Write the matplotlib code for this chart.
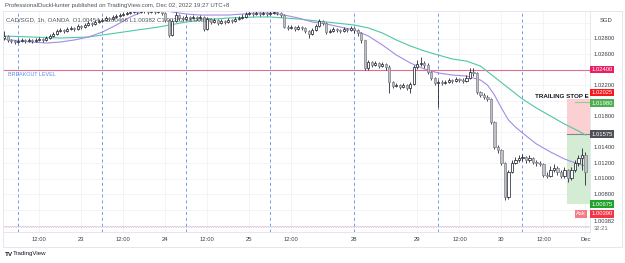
import matplotlib
matplotlib.use('Agg')
import matplotlib.pyplot as plt
import matplotlib.transforms as mtransforms
from matplotlib.patches import Rectangle
import numpy as np

# ---------------- data (CAD/SGD, 1h, OANDA) ----------------
open0 = 1.02806
close = [1.02832, 1.02781, 1.02768, 1.02755, 1.02768, 1.02781, 1.02768, 1.02781, 1.02768, 1.02781,
         1.02794, 1.02781, 1.02806, 1.02832, 1.02858, 1.02896, 1.02909, 1.02896, 1.02922, 1.02935,
         1.02922, 1.02960, 1.02947, 1.02973, 1.02999, 1.02986, 1.03012, 1.03024, 1.03037, 1.03063,
         1.03050, 1.03076, 1.03088, 1.03101, 1.03114, 1.03127, 1.03140, 1.03153, 1.03140, 1.03165,
         1.03153, 1.03140, 1.03165, 1.03140, 1.03153, 1.03127, 1.03037, 1.02845, 1.03024, 1.03101,
         1.03063, 1.03050, 1.03076, 1.03063, 1.03076, 1.03063, 1.03076, 1.02922, 1.03050, 1.03012,
         1.03037, 1.02999, 1.03024, 1.03012, 1.03037, 1.03024, 1.03050, 1.03063, 1.03076, 1.03114,
         1.03127, 1.03114, 1.03127, 1.03114, 1.03127, 1.03114, 1.03127, 1.03140, 1.03127, 1.03101,
         1.02947, 1.02935, 1.02947, 1.02922, 1.02947, 1.02935, 1.02896, 1.02858, 1.02909, 1.02960,
         1.03024, 1.02999, 1.02883, 1.02896, 1.02922, 1.02909, 1.02896, 1.02922, 1.02909, 1.02935,
         1.02909, 1.02871, 1.02781, 1.02422, 1.02499, 1.02460, 1.02486, 1.02447, 1.02473, 1.02435,
         1.02242, 1.02191, 1.02204, 1.02178, 1.02204, 1.02165, 1.02217, 1.02435, 1.02473, 1.02486,
         1.02460, 1.02370, 1.02294, 1.02229, 1.02242, 1.02229, 1.02242, 1.02268, 1.02255, 1.02281,
         1.02268, 1.02255, 1.02294, 1.02370, 1.02358, 1.02114, 1.02076, 1.02050, 1.02024, 1.01730,
         1.01410, 1.01371, 1.01204, 1.00768, 1.01088, 1.01204, 1.01242, 1.01268, 1.01281, 1.01242,
         1.01268, 1.01217, 1.01204, 1.01191, 1.01050, 1.01037, 1.01114, 1.01140, 1.01088, 1.01037,
         1.01114, 1.01011, 1.01114, 1.01204, 1.01268, 1.01306, 1.01088]
high = [1.02896, 1.02845, 1.02794, 1.02781, 1.02794, 1.02806, 1.02794, 1.02806, 1.02794, 1.02806,
        1.02819, 1.02806, 1.02832, 1.02858, 1.02883, 1.02922, 1.02935, 1.02922, 1.02947, 1.02960,
        1.02947, 1.02986, 1.02973, 1.02999, 1.03024, 1.03012, 1.03037, 1.03050, 1.03063, 1.03088,
        1.03076, 1.03101, 1.03114, 1.03127, 1.03140, 1.03153, 1.03165, 1.03178, 1.03165, 1.03191,
        1.03178, 1.03165, 1.03191, 1.03178, 1.03178, 1.03165, 1.03140, 1.03050, 1.03050, 1.03140,
        1.03114, 1.03088, 1.03101, 1.03088, 1.03101, 1.03088, 1.03101, 1.03088, 1.03076, 1.03063,
        1.03063, 1.03050, 1.03050, 1.03037, 1.03063, 1.03050, 1.03076, 1.03088, 1.03114, 1.03140,
        1.03153, 1.03140, 1.03153, 1.03140, 1.03153, 1.03140, 1.03153, 1.03165, 1.03153, 1.03140,
        1.03114, 1.02973, 1.02973, 1.02960, 1.02973, 1.02960, 1.02947, 1.02909, 1.02935, 1.02986,
        1.03050, 1.03037, 1.03012, 1.02922, 1.02947, 1.02935, 1.02922, 1.02947, 1.02935, 1.02960,
        1.02947, 1.02922, 1.02883, 1.02781, 1.02524, 1.02511, 1.02511, 1.02499, 1.02499, 1.02486,
        1.02460, 1.02255, 1.02229, 1.02217, 1.02229, 1.02217, 1.02242, 1.02460, 1.02524, 1.02563,
        1.02511, 1.02486, 1.02383, 1.02306, 1.02268, 1.02268, 1.02268, 1.02294, 1.02281, 1.02306,
        1.02294, 1.02294, 1.02332, 1.02422, 1.02422, 1.02370, 1.02127, 1.02101, 1.02076, 1.02037,
        1.01743, 1.01435, 1.01384, 1.01217, 1.01114, 1.01242, 1.01281, 1.01306, 1.01319, 1.01294,
        1.01306, 1.01281, 1.01242, 1.01230, 1.01204, 1.01088, 1.01165, 1.01191, 1.01165, 1.01114,
        1.01153, 1.01127, 1.01153, 1.01242, 1.01306, 1.01397, 1.01345]
low = [1.02781, 1.02755, 1.02742, 1.02730, 1.02742, 1.02755, 1.02742, 1.02755, 1.02742, 1.02755,
       1.02768, 1.02755, 1.02768, 1.02794, 1.02819, 1.02845, 1.02883, 1.02871, 1.02883, 1.02909,
       1.02896, 1.02909, 1.02922, 1.02935, 1.02960, 1.02960, 1.02973, 1.02999, 1.03012, 1.03024,
       1.03024, 1.03037, 1.03063, 1.03076, 1.03088, 1.03101, 1.03114, 1.03127, 1.03114, 1.03127,
       1.03127, 1.03114, 1.03127, 1.03114, 1.03127, 1.03101, 1.03012, 1.02819, 1.02832, 1.03012,
       1.03037, 1.03024, 1.03037, 1.03037, 1.03050, 1.03037, 1.03050, 1.02896, 1.02909, 1.02986,
       1.02999, 1.02973, 1.02986, 1.02986, 1.02999, 1.02999, 1.03012, 1.03037, 1.03050, 1.03063,
       1.03101, 1.03088, 1.03101, 1.03088, 1.03101, 1.03088, 1.03101, 1.03114, 1.03101, 1.03076,
       1.02935, 1.02909, 1.02922, 1.02896, 1.02909, 1.02909, 1.02871, 1.02806, 1.02845, 1.02896,
       1.02947, 1.02973, 1.02858, 1.02871, 1.02883, 1.02883, 1.02871, 1.02883, 1.02883, 1.02896,
       1.02871, 1.02832, 1.02742, 1.02396, 1.02396, 1.02435, 1.02447, 1.02422, 1.02435, 1.02396,
       1.02101, 1.02165, 1.02178, 1.02153, 1.02165, 1.02140, 1.02101, 1.02204, 1.02409, 1.02447,
       1.02422, 1.02345, 1.02268, 1.02204, 1.01922, 1.02204, 1.02217, 1.02229, 1.02229, 1.02242,
       1.02242, 1.02229, 1.02242, 1.02281, 1.02319, 1.02088, 1.02050, 1.02024, 1.01999, 1.01704,
       1.01384, 1.01332, 1.01178, 1.00730, 1.00743, 1.01075, 1.01191, 1.01217, 1.01230, 1.01204,
       1.01217, 1.01191, 1.01165, 1.01165, 1.01024, 1.01011, 1.01024, 1.01088, 1.01050, 1.01011,
       1.01011, 1.00960, 1.00986, 1.01088, 1.01165, 1.01114, 1.00922]

fast_idx = [0, 4, 8, 12, 16, 20, 24, 28, 32, 36, 40, 44, 48, 52, 56, 60, 64, 68, 72, 76, 80, 84, 88,
            92, 96, 100, 104, 108, 112, 116, 120, 124, 128, 132, 136, 138, 140, 142, 144, 146, 148,
            152, 156, 160, 164, 166]
fast_ma = [1.02794, 1.02768, 1.02755, 1.02742, 1.02755, 1.02781, 1.02819, 1.02883, 1.02973, 1.03076,
           1.03153, 1.03178, 1.03140, 1.03114, 1.03101, 1.03101, 1.03101, 1.03114, 1.03127, 1.03127,
           1.03101, 1.03063, 1.03012, 1.02986, 1.02947, 1.02909, 1.02832, 1.02717, 1.02588, 1.02486,
           1.02409, 1.02358, 1.02332, 1.02319, 1.02268, 1.02204, 1.02076, 1.01909, 1.01755, 1.01665,
           1.01589, 1.01448, 1.01345, 1.01255, 1.01191, 1.01165]
slow_idx = [0, 8, 16, 24, 28, 36, 44, 52, 56, 64, 72, 76, 84, 92, 100, 104, 108, 112, 116, 120, 124,
            128, 132, 136, 140, 144, 148, 152, 156, 160, 164, 166]
slow_ma = [1.02832, 1.02819, 1.02806, 1.02819, 1.02845, 1.02896, 1.02947, 1.03012, 1.03037, 1.03063,
           1.03076, 1.03076, 1.03050, 1.03012, 1.02973, 1.02935, 1.02871, 1.02781, 1.02704, 1.02640,
           1.02588, 1.02537, 1.02511, 1.02447, 1.02306, 1.02165, 1.02024, 1.01909, 1.01806, 1.01704,
           1.01614, 1.01563]

time_tick_idx = [10, 22, 34, 46, 58, 70, 82, 100, 118, 130, 142, 154, 166]
time_tick_lbl = ['12:00', '23', '12:00', '24', '12:00', '25', '12:00', '28', '29', '12:00', '30',
                 '12:00', 'Dec']
session_idx = [4, 28, 52, 76, 100, 124, 148]
grid_prices = [1.030, 1.028, 1.026, 1.024, 1.022, 1.020, 1.018, 1.016, 1.014, 1.012, 1.010, 1.008,
               1.006, 1.004]
shown_prices = [1.028, 1.026, 1.022, 1.018, 1.014, 1.012, 1.010, 1.008]
breakout_level = 1.024
stop_level = 1.02025
trail_level = 1.01980
entry_level = 1.01575
target_level = 1.00675
ask_price = 1.00390
last_price = 1.00382

# ---------------- figure ----------------
W, H = 625, 263
fig = plt.figure(figsize=(W / 100, H / 100), dpi=100)
fig.patch.set_facecolor('white')
FONT = ['Liberation Sans', 'DejaVu Sans']
plt.rcParams['font.family'] = FONT

L, R, T, B = 3, 590, 12, 232
ax = fig.add_axes([L / W, (H - B) / H, (R - L) / W, (B - T) / H])
ax.set_facecolor('white')

x_idx = np.arange(len(close))
opens = np.array([open0] + close[:-1])
c = np.array(close)
hi = np.array(high)
lo = np.array(low)

ax.set_xlim(-0.37, 167.3)
ax.set_ylim(1.00319, 1.0314)

# grid
for gp in grid_prices:
    ax.axhline(gp, color='#f2f3f6', lw=0.6, zorder=0)
for ti in time_tick_idx:
    ax.axvline(ti, color='#f2f3f6', lw=0.6, zorder=0)

# session dashed lines
for si in session_idx:
    ax.axvline(si, color='#6f9cf0', lw=0.7, ls=(0, (3, 3)), zorder=1)

# breakout
ax.axhline(breakout_level, color='#e0708e', lw=0.8, zorder=2)
ax.text(1.0, breakout_level - 0.00058, 'BREAKOUT LEVEL', fontsize=3.9, color='#5b8def',
        va='center', ha='left', zorder=2)

# bid/ask dotted lines
ax.axhline(ask_price, color='#f7a0a8', lw=0.6, ls=(0, (1, 1)), zorder=1)
ax.axhline(last_price, color='#9fb8f0', lw=0.6, ls=(0, (1, 2)), zorder=1)

# position tool
pos_x0 = 160.8
ax.add_patch(Rectangle((pos_x0, entry_level), 10, stop_level - entry_level,
                       facecolor='#fbd0d3', edgecolor='none', zorder=1))
ax.add_patch(Rectangle((pos_x0, target_level), 10, entry_level - target_level,
                       facecolor='#d3ecd3', edgecolor='none', zorder=1))
ax.plot([pos_x0, 168], [entry_level, entry_level], color='#80838c', lw=0.8, zorder=2)
ax.plot([163, 168], [trail_level, trail_level], color='#8fcc8f', lw=0.8, zorder=2)
# the label runs off the chart edge in the original; only the visible part is shown
ax.text(0.9985, 1.02058, 'TRAILING STOP E', fontsize=4.5, fontweight='bold',
        color='#131722', va='center', ha='right', zorder=6,
        transform=mtransforms.blended_transform_factory(ax.transAxes, ax.transData))

# moving averages
ax.plot(slow_idx, slow_ma, color='#4fc7a4', lw=0.8, zorder=2)
ax.plot(fast_idx, fast_ma, color='#a58be6', lw=0.8, zorder=2)

# candles
up = c >= opens
body_lo = np.minimum(c, opens)
body_h = np.maximum(np.abs(c - opens), 0.000025)
ax.vlines(x_idx, lo, hi, color='#131722', lw=0.55, zorder=3)
ax.bar(x_idx[up], body_h[up], bottom=body_lo[up], width=0.62, color='white',
       edgecolor='#131722', lw=0.5, zorder=4)
ax.bar(x_idx[~up], body_h[~up], bottom=body_lo[~up], width=0.62, color='#bfc1c6',
       edgecolor='#7c7f87', lw=0.5, zorder=4)

# axes cosmetics
for s in ['top', 'left']:
    ax.spines[s].set_visible(False)
ax.spines['right'].set_color('#e0e3eb')
ax.spines['bottom'].set_color('#e0e3eb')
ax.spines['right'].set_linewidth(0.6)
ax.spines['bottom'].set_linewidth(0.6)
ax.set_yticks([])
ax.set_xticks(time_tick_idx)
ax.set_xticklabels(time_tick_lbl, fontsize=4.2, color='#3a3d46')
ax.tick_params(axis='x', length=0, pad=3.5)

# price axis labels
btr = mtransforms.blended_transform_factory(ax.transAxes, ax.transData)
for p in shown_prices:
    ax.text(1.006, p, f'{p:.5f}', transform=btr, fontsize=4.2, color='#3a3d46',
            va='center', ha='left', clip_on=False)


def tag(price, text, bg, dy_px=0.0, xa=1.002, fg='white'):
    tr = mtransforms.offset_copy(btr, fig=fig, x=0, y=dy_px, units='dots')
    ax.text(xa, price, text, transform=tr, fontsize=4.2, color=fg, va='center', ha='left',
            clip_on=False, zorder=10,
            bbox=dict(boxstyle='square,pad=0.22', fc=bg, ec='none'))


tag(breakout_level, f'{breakout_level:.5f}', '#e91e63')
tag(stop_level, f'{stop_level:.5f}', '#f7171d', dy_px=6.5)
tag(trail_level, f'{trail_level:.5f}', '#4caf50', dy_px=-0.8)
tag(entry_level, f'{entry_level:.5f}', '#4f5158')
tag(target_level, f'{target_level:.5f}', '#1fa32a')
tag(ask_price, f'{ask_price:.5f}', '#f23645', dy_px=12.7)
ax.text(0.9765, ask_price, 'Ask', transform=mtransforms.offset_copy(btr, fig=fig, y=12.7,
        units='dots'), fontsize=4.2, color='white', va='center', ha='left', clip_on=False,
        zorder=10, bbox=dict(boxstyle='square,pad=0.22', fc='#f77b84', ec='none'))
ax.text(1.006, last_price, f'{last_price:.5f}',
        transform=mtransforms.offset_copy(btr, fig=fig, y=5.3, units='dots'),
        fontsize=4.2, color='#3a3d46', va='center', ha='left', clip_on=False)
ax.text(1.006, last_price, '32:21',
        transform=mtransforms.offset_copy(btr, fig=fig, y=-1.4, units='dots'),
        fontsize=4.2, color='#6a6d78', va='center', ha='left', clip_on=False)

fig.text(600 / W, 1 - 20 / H, 'SGD', fontsize=4.2, color='#3a3d46', va='center', ha='left')

# outer frame
fig.patches.append(Rectangle((L / W, 1 - 247 / H), (622 - L) / W, (247 - 11) / H,
                             transform=fig.transFigure, fill=False, edgecolor='#e0e3eb', lw=0.6))

# titles
fig.text(5 / W, 1 - 6 / H,
         'ProfessionalDuckHunter published on TradingView.com, Dec 02, 2022 19:27 UTC+8',
         fontsize=4.3, color='#50535e', va='center', ha='left')
fig.text(6 / W, 1 - 20 / H,
         'CAD/SGD, 1h, OANDA  O1.00454 H1.00466 L1.00382 C1.00382 \u22120.00072',
         fontsize=4.4, color='#50535e', va='center', ha='left', zorder=20)
fig.text(5 / W, 1 - 254 / H, 'TV', fontsize=4.6, fontweight='bold', color='#131722',
         va='center', ha='left')
fig.text(13 / W, 1 - 254 / H, 'TradingView', fontsize=4.4, color='#131722',
         va='center', ha='left')

fig.savefig('out.png', dpi=100, facecolor='white')
